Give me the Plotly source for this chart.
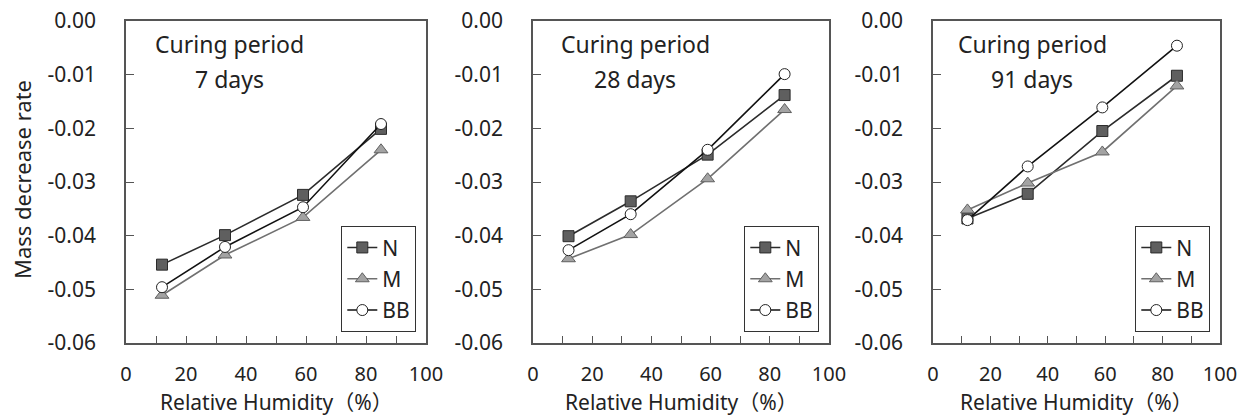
import plotly.graph_objects as go

rh = [12, 33, 59, 85]
periods = ["7 days", "28 days", "91 days"]

n_7 = [-0.0454, -0.0399, -0.0324, -0.0201]
m_7 = [-0.0511, -0.0436, -0.0366, -0.0240]
bb_7 = [-0.0496, -0.0421, -0.0347, -0.0192]

n_28 = [-0.0401, -0.0336, -0.0249, -0.0138]
m_28 = [-0.0443, -0.0398, -0.0294, -0.0165]
bb_28 = [-0.0427, -0.0360, -0.0240, -0.0099]

n_91 = [-0.0368, -0.0322, -0.0205, -0.0102]
m_91 = [-0.0352, -0.0302, -0.0244, -0.0121]
bb_91 = [-0.0371, -0.0271, -0.0161, -0.0046]

series_names = ["N", "M", "BB"]
y_ticks = [0.0, -0.01, -0.02, -0.03, -0.04, -0.05, -0.06]
y_ticktext = ["0.00", "-0.01", "-0.02", "-0.03", "-0.04", "-0.05", "-0.06"]
x_ticks = [0, 10, 20, 30, 40, 50, 60, 70, 80, 90, 100]
x_ticktext = ["0", "", "20", "", "40", "", "60", "", "80", "", "100"]

data = [(n_7, m_7, bb_7), (n_28, m_28, bb_28), (n_91, m_91, bb_91)]

W, H = 1241, 415
FONT = "Noto Sans, Noto Sans CJK JP, sans-serif"
# pixel geometry of each panel box (left, right)
boxes = [(126, 426), (533, 829), (933, 1220)]
top_px, bot_px = 21, 343

styles = {
    "N": dict(mode="lines+markers",
              line=dict(color="#2b2b2b", width=1.6),
              marker=dict(symbol="square", size=11, color="#5f5f5f",
                          line=dict(color="#2b2b2b", width=1))),
    "M": dict(mode="lines+markers",
              line=dict(color="#707070", width=1.6),
              marker=dict(symbol="triangle-up", size=12, color="#a3a3a3",
                          line=dict(color="#606060", width=1))),
    "BB": dict(mode="lines+markers",
               line=dict(color="#111111", width=1.6),
               marker=dict(symbol="circle", size=11, color="white",
                           line=dict(color="#222222", width=1))),
}

fig = go.Figure()
annotations = []
layout = {}
for i, (vals, period) in enumerate(zip(data, periods)):
    k = "" if i == 0 else str(i + 1)
    legname = "legend" + k
    for name, ys in zip(series_names, vals):
        fig.add_trace(go.Scatter(x=rh, y=ys, name=name, xaxis="x" + k, yaxis="y" + k,
                                 legend=legname, legendgroup=name + k, showlegend=True,
                                 **styles[name]))
    l, r = boxes[i]
    layout["xaxis" + k] = dict(
        domain=[l / W, r / W], range=[0, 100], anchor="y" + k,
        tickvals=x_ticks, ticktext=x_ticktext, ticks="inside", ticklen=7,
        tickcolor="#555555", tickwidth=1.3,
        showline=True, mirror=True, linecolor="#555555", linewidth=1.6,
        showgrid=False, zeroline=False, ticklabelstandoff=12, automargin=False,
        tickfont=dict(family=FONT, size=20, color="#222222"),
        fixedrange=True,
    )
    layout["yaxis" + k] = dict(
        domain=[(H - bot_px) / H, (H - top_px) / H], range=[-0.06, 0], anchor="x" + k,
        tickvals=y_ticks, ticktext=y_ticktext, ticks="inside", ticklen=8,
        tickcolor="#555555", tickwidth=1.3,
        showline=True, mirror=True, linecolor="#555555", linewidth=1.6,
        showgrid=False, zeroline=False, ticklabelstandoff=24, automargin=False,
        tickfont=dict(family=FONT, size=21, color="#222222"),
        fixedrange=True,
    )
    layout[legname] = dict(
        x=(r - 10) / W, xanchor="right", y=(H - 332) / H, yanchor="bottom",
        bordercolor="#333333", borderwidth=1.3, bgcolor="white",
        font=dict(family=FONT, size=21, color="#222222"),
        itemwidth=30, tracegroupgap=1,
    )
    cx = 34.5
    annotations.append(dict(x=cx, y=-0.0042, xref="x" + k, yref="y" + k,
                            xanchor="center", yanchor="middle",
                            text="Curing period", showarrow=False,
                            font=dict(family=FONT, size=23, color="#222222")))
    annotations.append(dict(x=cx, y=-0.0108, xref="x" + k, yref="y" + k,
                            xanchor="center", yanchor="middle",
                            text=period, showarrow=False,
                            font=dict(family=FONT, size=23, color="#222222")))
    annotations.append(dict(x=(l + r) / 2 / W, y=(H - 402) / H, xref="paper", yref="paper",
                            xanchor="center", yanchor="middle",
                            text="Relative Humidity（%）", showarrow=False,
                            font=dict(family=FONT, size=21, color="#222222")))

annotations.append(dict(x=22 / W, y=(H - 180) / H, xref="paper", yref="paper",
                        xanchor="center", yanchor="middle",
                        text="Mass decrease rate", textangle=-90, showarrow=False,
                        font=dict(family=FONT, size=22, color="#222222")))

fig.update_layout(
    width=W, height=H, margin=dict(l=0, r=0, t=0, b=0, autoexpand=False),
    paper_bgcolor="white", plot_bgcolor="white",
    annotations=annotations, **layout,
)

fig.write_html("out.html")
